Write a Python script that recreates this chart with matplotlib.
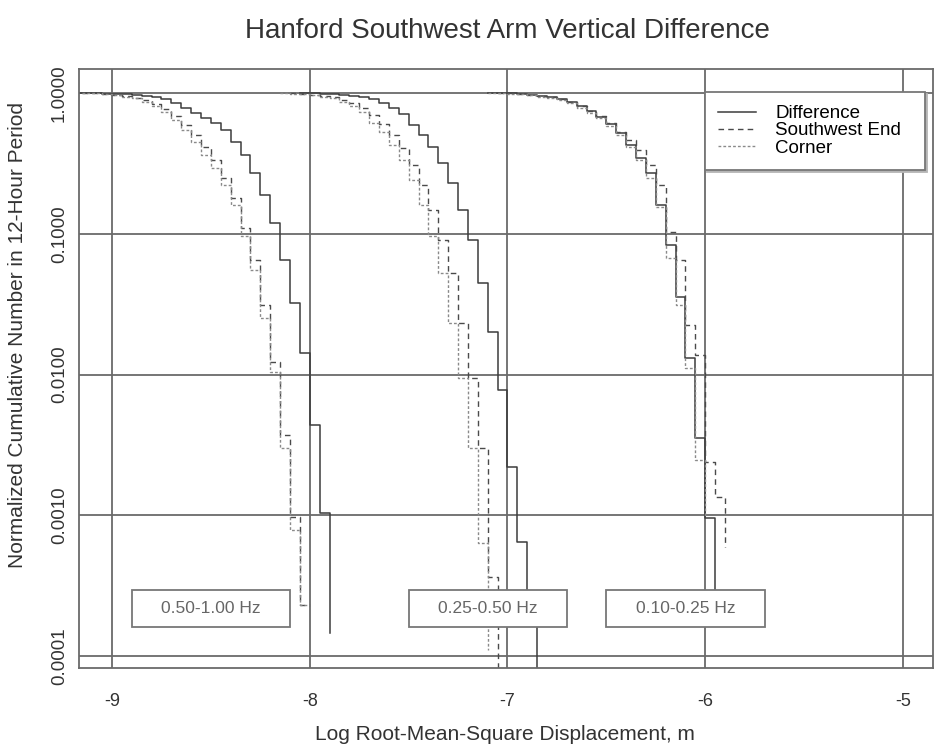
import numpy as np
import matplotlib
matplotlib.use("Agg")
import matplotlib.pyplot as plt
from matplotlib.patches import Rectangle

plt.rcParams['font.family'] = ['Liberation Sans', 'DejaVu Sans']

BIN = 0.05  # histogram bin width in log10 metres

# 0.50-1.00 Hz band: first bin start and cumulative fraction per bin
hi_diff_x0 = -9.20
hi_diff = [1.0, 1.0, 0.9951, 0.9918, 0.9886, 0.9838, 0.9757, 0.9598, 0.9443,
           0.9066, 0.8493, 0.7823, 0.7211, 0.6641, 0.6122, 0.5460, 0.4486,
           0.3627, 0.2701, 0.1885, 0.1192, 0.0651, 0.0322, 0.0142, 0.00438,
           0.00104, 0.000146]
hi_sw_x0 = -9.15
hi_sw = [1.0, 1.0, 0.9918, 0.9757, 0.9598, 0.9290, 0.8918, 0.8353, 0.7696,
         0.6865, 0.5925, 0.5031, 0.4134, 0.3342, 0.2489, 0.1795, 0.1099,
         0.0651, 0.0312, 0.0123, 0.00372, 0.000972, 0.000230, 0.000230]
hi_corner_x0 = -9.15
hi_corner = [1.0, 0.9951, 0.9838, 0.9678, 0.9443, 0.9141, 0.8701, 0.8083,
             0.7328, 0.6423, 0.5460, 0.4486, 0.3627, 0.2932, 0.2221, 0.1601,
             0.0964, 0.0553, 0.0252, 0.0104, 0.00300, 0.000786, 0.000230,
             0.000230]

# 0.25-0.50 Hz band
mid_diff_x0 = -8.05
mid_diff = [1.0, 1.0, 0.9918, 0.9838, 0.9757, 0.9598, 0.9367, 0.9066, 0.8493,
            0.7823, 0.7094, 0.5925, 0.5031, 0.4134, 0.3183, 0.2294, 0.1475,
            0.0903, 0.0447, 0.0200, 0.00776, 0.00220, 0.000645, 0.000230,
            0.00005]
mid_sw_x0 = -8.10
mid_sw = [1.0, 0.9918, 0.9757, 0.9598, 0.9367, 0.8990, 0.8493, 0.7823, 0.6979,
          0.6023, 0.5031, 0.4067, 0.3080, 0.2221, 0.1475, 0.0903, 0.0526,
          0.0232, 0.00944, 0.00300, 0.000364, 0.00005]
mid_corner_x0 = -8.15
mid_corner = [1.0, 0.9918, 0.9838, 0.9678, 0.9443, 0.9141, 0.8701, 0.8083,
              0.7328, 0.6122, 0.5284, 0.4272, 0.3342, 0.2409, 0.1601, 0.0964,
              0.0526, 0.0232, 0.00944, 0.00300, 0.000637, 0.000110]

# 0.10-0.25 Hz band
lo_diff_x0 = -7.10
lo_diff = [1.0, 1.0, 0.9951, 0.9886, 0.9757, 0.9598, 0.9367, 0.9066, 0.8631,
           0.8083, 0.7448, 0.6754, 0.6023, 0.5198, 0.4272, 0.3453, 0.2701,
           0.1601, 0.0832, 0.0355, 0.0131, 0.00354, 0.000955, 0.000196]
lo_sw_x0 = -7.05
lo_sw = [1.0, 0.9951, 0.9886, 0.9757, 0.9598, 0.9367, 0.9066, 0.8631, 0.8083,
         0.7448, 0.6865, 0.6122, 0.5284, 0.4635, 0.3936, 0.3080, 0.2221,
         0.1029, 0.0652, 0.0225, 0.0138, 0.00239, 0.00135, 0.000595]
lo_corner_x0 = -7.10
lo_corner = [1.0, 0.9951, 0.9886, 0.9838, 0.9678, 0.9443, 0.9215, 0.8918,
             0.8493, 0.7823, 0.7211, 0.6641, 0.5829, 0.5031, 0.4134, 0.3342,
             0.2489, 0.1549, 0.0673, 0.0312, 0.0111, 0.00247, 0.000972]

band_labels = ['0.50-1.00 Hz', '0.25-0.50 Hz', '0.10-0.25 Hz']
band_centres = [-8.50, -7.10, -6.10]
series_names = ['Difference', 'Southwest End', 'Corner']

styles = {
    'Difference': dict(color='#3c3c3c', lw=1.1, ls='-'),
    'Southwest End': dict(color='#4a4a4a', lw=1.0, ls=(0, (4, 3))),
    'Corner': dict(color='#8a8a8a', lw=1.0, ls=(0, (2, 1.5))),
}

bands = [
    [(hi_diff_x0, hi_diff), (hi_sw_x0, hi_sw), (hi_corner_x0, hi_corner)],
    [(mid_diff_x0, mid_diff), (mid_sw_x0, mid_sw), (mid_corner_x0, mid_corner)],
    [(lo_diff_x0, lo_diff), (lo_sw_x0, lo_sw), (lo_corner_x0, lo_corner)],
]

fig = plt.figure(figsize=(9.35, 7.5), dpi=100)
ax = fig.add_axes([79 / 935, 82 / 750, 854 / 935, 599 / 750])
ax.set_yscale('log')

for b, band in enumerate(bands):
    for name, (x0, vals) in zip(series_names, band):
        x = x0 + BIN * np.arange(len(vals))
        ax.step(x, vals, where='post', label=name if b == 0 else None,
                zorder=2, **styles[name])

ax.set_xlim(-9.167, -4.848)
ax.set_ylim(8.22e-5, 1.481)

ax.set_xticks([-9, -8, -7, -6, -5])
ax.set_xticklabels(['-9', '-8', '-7', '-6', '-5'])
ax.set_yticks([1e-4, 1e-3, 1e-2, 1e-1, 1.0])
ax.set_yticklabels(['0.0001', '0.0010', '0.0100', '0.1000', '1.0000'],
                   rotation=90, va='center')
ax.minorticks_off()
ax.tick_params(axis='x', length=0, pad=18, labelsize=13, colors='#333333')
ax.tick_params(axis='y', length=0, pad=8, labelsize=13.5, colors='#333333')
ax.grid(True, which='major', color='#6a6a6a', lw=1.3, zorder=1)
for sp in ax.spines.values():
    sp.set_color('#6a6a6a')
    sp.set_linewidth(1.3)

# boxed band labels near the bottom
for lab, xc in zip(band_labels, band_centres):
    ax.add_patch(Rectangle((xc - 0.40, 1.61e-4), 0.80, 2.94e-4 - 1.61e-4,
                           facecolor='white', edgecolor='#777777', lw=1.3,
                           zorder=3))
    ax.text(xc, 2.18e-4, lab, ha='center', va='center', fontsize=12.5,
            color='#666666', zorder=4)

leg = ax.legend(loc='upper left', bbox_to_anchor=(0.733, 0.9616, 0.258, 0),
                mode='expand', borderaxespad=0, frameon=True, fancybox=False,
                fontsize=13.5, handlelength=2.0, handletextpad=1.05,
                labelspacing=0.0, borderpad=0.7,
                shadow={'color': '#b5b5b5', 'alpha': 1.0, 'ox': 1.5, 'oy': -1.5})
leg.get_frame().set_edgecolor('#777777')
leg.get_frame().set_linewidth(1.3)

fig.text(507 / 935, 1 - 31 / 750, 'Hanford Southwest Arm Vertical Difference',
         ha='center', va='center', fontsize=20, color='#333333')
fig.text(505 / 935, 1 - 735 / 750, 'Log Root-Mean-Square Displacement, m',
         ha='center', va='center', fontsize=15, color='#333333')
fig.text(18 / 935, 1 - 335 / 750,
         'Normalized Cumulative Number in 12-Hour Period',
         ha='center', va='center', rotation=90, fontsize=15, color='#333333')

fig.savefig('out.png', dpi=100)
